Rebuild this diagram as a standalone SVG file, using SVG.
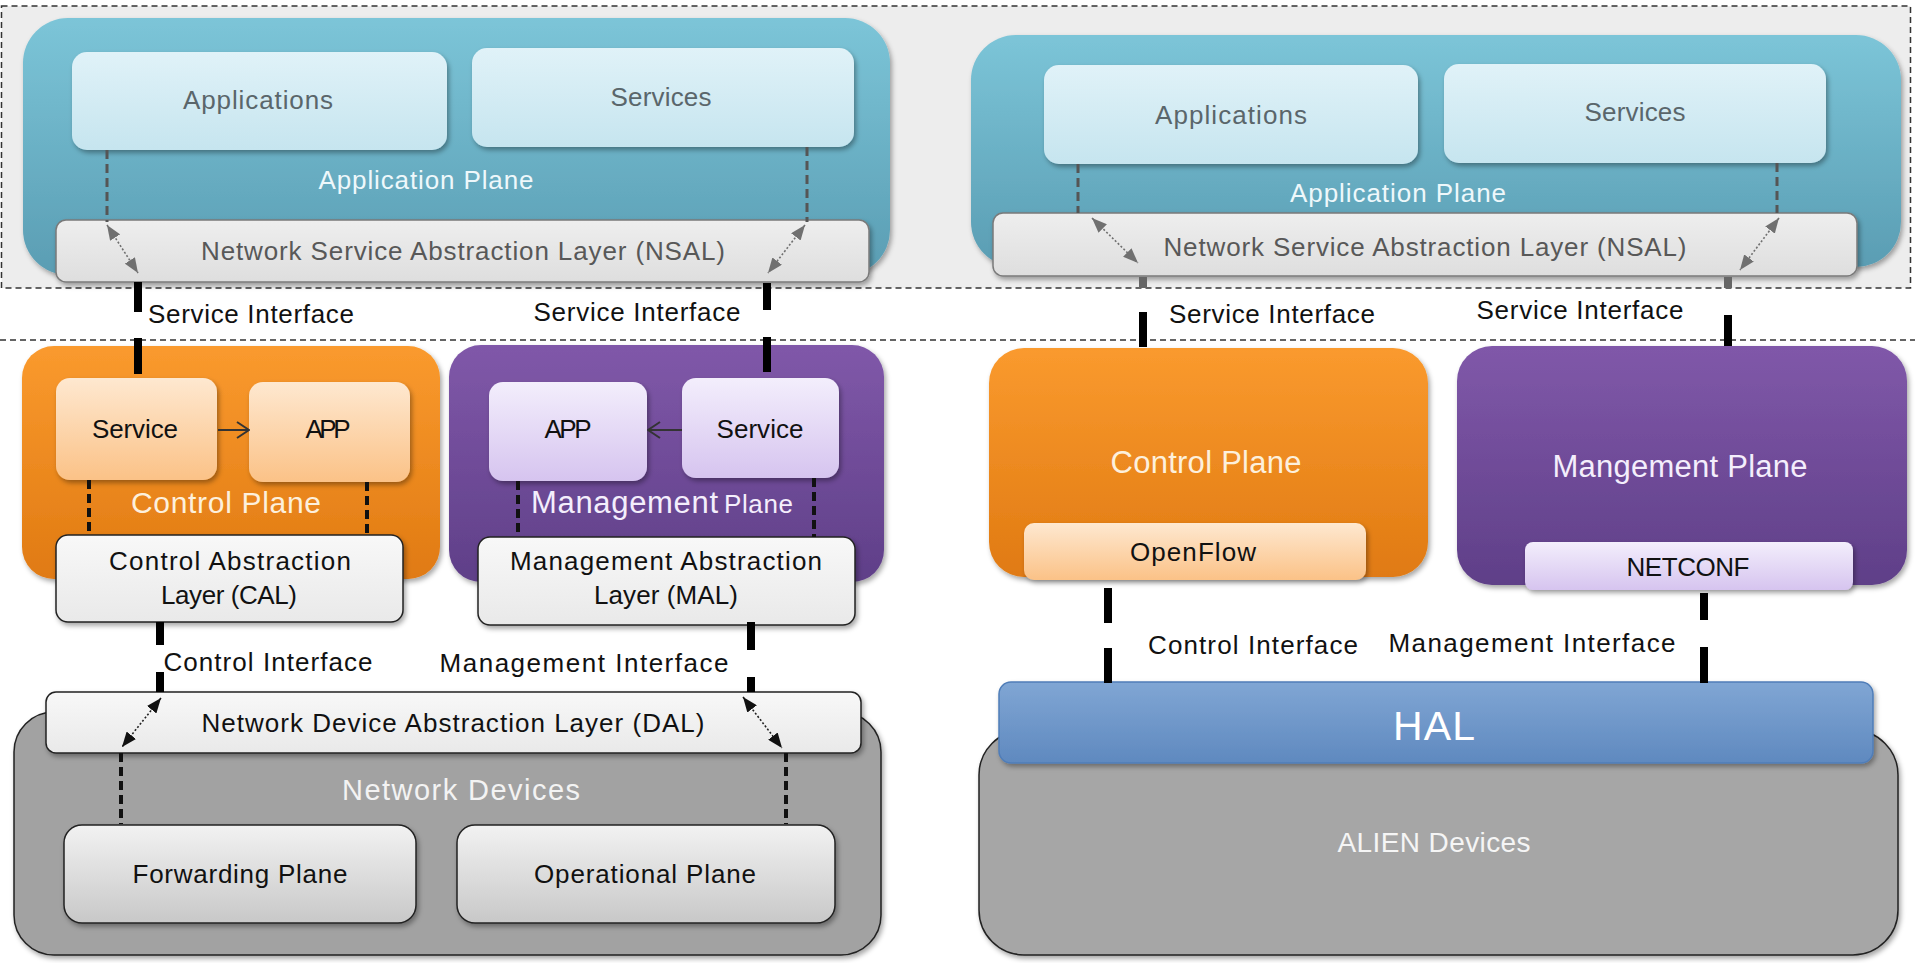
<svg xmlns="http://www.w3.org/2000/svg" width="1915" height="963" viewBox="0 0 1915 963">
<defs>
<linearGradient id="gTeal" x1="0" y1="0" x2="0" y2="1"><stop offset="0" stop-color="#7cc5d8"/><stop offset="1" stop-color="#5a9db3"/></linearGradient>
<linearGradient id="gApp" x1="0" y1="0" x2="0" y2="1"><stop offset="0" stop-color="#e0f2f8"/><stop offset="1" stop-color="#c6e5ef"/></linearGradient>
<linearGradient id="gNsal" x1="0" y1="0" x2="0" y2="1"><stop offset="0" stop-color="#eeeeee"/><stop offset="1" stop-color="#dedede"/></linearGradient>
<linearGradient id="gOrange" x1="0" y1="0" x2="0" y2="1"><stop offset="0" stop-color="#fa9a2e"/><stop offset="1" stop-color="#e07a12"/></linearGradient>
<linearGradient id="gLOrange" x1="0" y1="0" x2="0" y2="1"><stop offset="0" stop-color="#fee8d0"/><stop offset="1" stop-color="#fbc287"/></linearGradient>
<linearGradient id="gPurple" x1="0" y1="0" x2="0" y2="1"><stop offset="0" stop-color="#8058a9"/><stop offset="1" stop-color="#5f3f88"/></linearGradient>
<linearGradient id="gLav" x1="0" y1="0" x2="0" y2="1"><stop offset="0" stop-color="#f3eefc"/><stop offset="1" stop-color="#d6c4ef"/></linearGradient>
<linearGradient id="gWhite" x1="0" y1="0" x2="0" y2="1"><stop offset="0" stop-color="#f8f8f8"/><stop offset="1" stop-color="#e9e9e9"/></linearGradient>
<linearGradient id="gBox" x1="0" y1="0" x2="0" y2="1"><stop offset="0" stop-color="#f2f2f2"/><stop offset="1" stop-color="#c8c8c8"/></linearGradient>
<linearGradient id="gHal" x1="0" y1="0" x2="0" y2="1"><stop offset="0" stop-color="#80a6d4"/><stop offset="1" stop-color="#5f89bf"/></linearGradient>
<filter id="sh" x="-10%" y="-10%" width="120%" height="130%"><feDropShadow dx="2" dy="3" stdDeviation="2.5" flood-color="#000" flood-opacity="0.35"/></filter>
<marker id="tg" viewBox="0 0 15 12" refX="15" refY="6" markerWidth="15" markerHeight="12" markerUnits="userSpaceOnUse" orient="auto-start-reverse"><path d="M0,0 L15,6 L0,12 z" fill="#707070"/></marker>
<marker id="tk" viewBox="0 0 15 12" refX="15" refY="6" markerWidth="15" markerHeight="12" markerUnits="userSpaceOnUse" orient="auto-start-reverse"><path d="M0,0 L15,6 L0,12 z" fill="#111"/></marker>
<marker id="ch" viewBox="0 0 14 18" refX="13" refY="9" markerWidth="14" markerHeight="18" markerUnits="userSpaceOnUse" orient="auto"><path d="M1,1 L13,9 L1,17" fill="none" stroke="#333" stroke-width="2"/></marker>
</defs>
<style>
text{font-family:"Liberation Sans",Arial,sans-serif;font-size:26px;text-anchor:middle}
.g{fill:#5a666b}
.w{fill:#eef8fb}
.n{fill:#585858}
.k{fill:#111}
.thick{stroke:#000;stroke-width:8;fill:none}
.gd{stroke:#555;stroke-width:3;stroke-dasharray:9 5;fill:none}
.kd{stroke:#111;stroke-width:4;stroke-dasharray:9 5;fill:none}
.ga{stroke:#707070;stroke-width:1.6;stroke-dasharray:2 2;fill:none;marker-start:url(#tg);marker-end:url(#tg)}
.ka{stroke:#222;stroke-width:1.6;stroke-dasharray:2 2;fill:none;marker-start:url(#tk);marker-end:url(#tk)}
.bd{stroke:#222;stroke-width:1.5}
</style>
<rect width="1915" height="963" fill="#ffffff"/>
<g id="regions">
<rect x="1.5" y="6" width="1909" height="282" fill="#ededed" stroke="#333" stroke-width="1.5" stroke-dasharray="6 4"/>
<line x1="0" y1="340" x2="1915" y2="340" stroke="#333" stroke-width="1.5" stroke-dasharray="6 4"/>
</g>
<g id="left-app-plane">
<rect x="23" y="18" width="867" height="257" rx="45" fill="url(#gTeal)" filter="url(#sh)"/>
<text class="w" x="426" y="189" textLength="215">Application Plane</text>
</g>
<g id="left-applications"><rect x="72" y="52" width="375" height="98" rx="15" fill="url(#gApp)" filter="url(#sh)"/><text class="g" x="258" y="109" textLength="150">Applications</text></g>
<g id="left-services"><rect x="472" y="48" width="382" height="99" rx="15" fill="url(#gApp)" filter="url(#sh)"/><text class="g" x="661" y="106" textLength="101">Services</text></g>
<g id="left-nsal"><rect x="56" y="220" width="813" height="62" rx="10" fill="url(#gNsal)" stroke="#7a7a7a" stroke-width="1.5" filter="url(#sh)"/><text class="n" x="463" y="260" textLength="524">Network Service Abstraction Layer (NSAL)</text></g>

<g id="right-app-plane">
<rect x="971" y="35" width="930" height="232" rx="45" fill="url(#gTeal)" filter="url(#sh)"/>
<text class="w" x="1398" y="202" textLength="216">Application Plane</text>
</g>
<g id="right-applications"><rect x="1044" y="65" width="374" height="99" rx="15" fill="url(#gApp)" filter="url(#sh)"/><text class="g" x="1231" y="124" textLength="152">Applications</text></g>
<g id="right-services"><rect x="1444" y="64" width="382" height="99" rx="15" fill="url(#gApp)" filter="url(#sh)"/><text class="g" x="1635" y="121" textLength="101">Services</text></g>
<g id="right-nsal"><rect x="993" y="213" width="864" height="63" rx="10" fill="url(#gNsal)" stroke="#7a7a7a" stroke-width="1.5" filter="url(#sh)"/><text class="n" x="1425" y="256" textLength="523">Network Service Abstraction Layer (NSAL)</text></g>

<g id="left-control-plane">
<rect x="22" y="346" width="418" height="233" rx="32" fill="url(#gOrange)" filter="url(#sh)"/>
<text x="226" y="513" style="font-size:30px;fill:#fdf0dc" textLength="190">Control Plane</text>
</g>
<g id="cp-service"><rect x="56" y="378" width="161" height="102" rx="14" fill="url(#gLOrange)" filter="url(#sh)"/><text class="k" x="135" y="438" textLength="86">Service</text></g>
<g id="cp-app"><rect x="249" y="382" width="161" height="100" rx="14" fill="url(#gLOrange)" filter="url(#sh)"/><text class="k" x="328" y="438" textLength="45">APP</text></g>
<g id="cal"><rect x="56" y="535" width="347" height="87" rx="12" fill="url(#gWhite)" class="bd" filter="url(#sh)"/><text class="k" x="230" y="570" textLength="242">Control Abstraction</text><text class="k" x="229" y="604" textLength="136">Layer (CAL)</text></g>

<g id="left-management-plane">
<rect x="449" y="345" width="435" height="237" rx="32" fill="url(#gPurple)" filter="url(#sh)"/>
<text x="531" y="513" style="text-anchor:start;fill:#f4eefc"><tspan style="font-size:31px" textLength="187">Management</tspan><tspan x="724" style="font-size:26px" textLength="69">Plane</tspan></text>
</g>
<g id="mp-app"><rect x="489" y="382" width="158" height="99" rx="14" fill="url(#gLav)" filter="url(#sh)"/><text class="k" x="568" y="438" textLength="47">APP</text></g>
<g id="mp-service"><rect x="682" y="378" width="157" height="100" rx="14" fill="url(#gLav)" filter="url(#sh)"/><text class="k" x="760" y="438" textLength="87">Service</text></g>
<g id="mal"><rect x="478" y="537" width="377" height="88" rx="12" fill="url(#gWhite)" class="bd" filter="url(#sh)"/><text class="k" x="666" y="570" textLength="312">Management Abstraction</text><text class="k" x="666" y="604" textLength="144">Layer (MAL)</text></g>

<g id="network-devices">
<rect x="14" y="712" width="867" height="243" rx="40" fill="#a2a2a2" class="bd" filter="url(#sh)"/>
<text x="461" y="800" style="font-size:29px;fill:#f3f3f3" textLength="238">Network Devices</text>
</g>
<g id="dal"><rect x="46" y="692" width="815" height="61" rx="10" fill="url(#gWhite)" class="bd" filter="url(#sh)"/><text class="k" x="453" y="732" textLength="503">Network Device Abstraction Layer (DAL)</text></g>
<g id="forwarding-plane"><rect x="64" y="825" width="352" height="98" rx="18" fill="url(#gBox)" class="bd" filter="url(#sh)"/><text class="k" x="240" y="883" textLength="215">Forwarding Plane</text></g>
<g id="operational-plane"><rect x="457" y="825" width="378" height="98" rx="18" fill="url(#gBox)" class="bd" filter="url(#sh)"/><text class="k" x="645" y="883" textLength="222">Operational Plane</text></g>

<g id="right-control-plane">
<rect x="989" y="348" width="439" height="229" rx="35" fill="url(#gOrange)" filter="url(#sh)"/>
<text x="1206" y="473" style="font-size:31px;fill:#fdf0dc" textLength="191">Control Plane</text>
</g>
<g id="openflow"><rect x="1024" y="523" width="342" height="57" rx="10" fill="url(#gLOrange)" filter="url(#sh)"/><text class="k" x="1193" y="561" textLength="126">OpenFlow</text></g>
<g id="right-management-plane">
<rect x="1457" y="346" width="450" height="239" rx="35" fill="url(#gPurple)" filter="url(#sh)"/>
<text x="1680" y="477" style="font-size:31px;fill:#f4eefc" textLength="255">Mangement Plane</text>
</g>
<g id="netconf"><rect x="1525" y="542" width="328" height="48" rx="8" fill="url(#gLav)" filter="url(#sh)"/><text class="k" x="1688" y="576" textLength="123">NETCONF</text></g>

<g id="alien-devices">
<rect x="979" y="730" width="919" height="225" rx="45" fill="#a6a6a6" class="bd" filter="url(#sh)"/>
<text x="1434" y="852" style="font-size:28px;fill:#f5f5f5" textLength="193">ALIEN Devices</text>
</g>
<g id="hal"><rect x="999" y="682" width="874" height="81" rx="12" fill="url(#gHal)" stroke="#4f7db8" stroke-width="1.5" filter="url(#sh)"/><text x="1434" y="740" style="font-size:41px;fill:#ffffff" textLength="82">HAL</text></g>

<g id="labels">
<text class="k" x="251" y="323" textLength="206">Service Interface</text>
<text class="k" x="637" y="321" textLength="207">Service Interface</text>
<text class="k" x="1272" y="323" textLength="206">Service Interface</text>
<text class="k" x="1580" y="319" textLength="207">Service Interface</text>
<text class="k" x="268" y="671" textLength="209">Control Interface</text>
<text class="k" x="584" y="672" textLength="289">Management Interface</text>
<text class="k" x="1253" y="654" textLength="210">Control Interface</text>
<text class="k" x="1532" y="652" textLength="287">Management Interface</text>
</g>

<g id="connectors">
<path class="gd" d="M107,150 V222 M807,147 V222 M1078,164 V213 M1777,163 V213"/>
<path class="ga" d="M107,225 L138,273"/>
<path class="ga" d="M805,225 L768,273"/>
<path class="ga" d="M1092,218 L1138,263"/>
<path class="ga" d="M1779,218 L1740,270"/>
<path class="thick" d="M138,282 V312 M138,338 V374 M767,283 V310 M767,337 V372 M1143,312 V347 M1728,315 V346"/>
<path d="M1143,277 V288 M1728,277 V288" stroke="#666" stroke-width="8"/>
<path d="M218,430 H249" stroke="#333" stroke-width="2" marker-end="url(#ch)"/>
<path d="M682,430 H648" stroke="#333" stroke-width="2" marker-end="url(#ch)"/>
<path class="kd" d="M89,480 V535 M367,482 V535 M518,481 V537 M814,478 V537"/>
<path class="thick" d="M160,622 V645 M160,672 V692 M751,622 V650 M751,677 V692 M1108,588 V623 M1108,648 V683 M1704,593 V620 M1704,647 V683"/>
<path class="ka" d="M161,698 L122,747"/>
<path class="ka" d="M743,697 L782,748"/>
<path class="kd" d="M121,753 V824 M786,753 V824"/>
</g>
</svg>
